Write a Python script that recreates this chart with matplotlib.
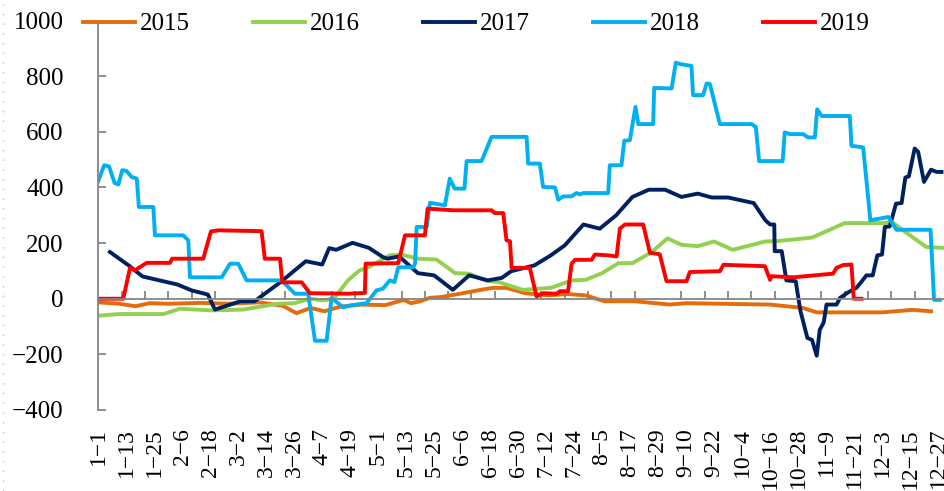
import matplotlib
matplotlib.use("Agg")
import matplotlib.pyplot as plt
from matplotlib.ticker import MultipleLocator, FixedLocator
from matplotlib.lines import Line2D

# day index (0 = 1-1) and value
days_2015 = [0, 9, 16, 22, 30, 44, 56, 69, 79, 85, 91, 97, 104, 113, 123, 131, 134, 138, 142, 147,
             155, 164, 169, 175, 183, 193, 201, 209, 217, 230, 245, 252, 288, 302, 308, 312, 336, 349, 357]
vals_2015 = [-13, -18, -27, -16, -18, -15, -18, -13, -25, -52, -33, -45, -28, -21, -23, -4, -16, -9, 3, 6,
             18, 32, 39, 39, 20, 12, 17, 12, -9, -9, -21, -16, -21, -33, -49, -49, -49, -40, -45]

days_2016 = [0, 9, 28, 35, 49, 62, 77, 84, 91, 96, 101, 107, 112, 116, 125, 130, 137, 145, 153, 159,
             166, 172, 182, 194, 203, 209, 216, 223, 229, 237, 244, 250, 257, 264, 272, 286, 291, 306,
             320, 337, 340, 347, 355, 362]
vals_2016 = [-61, -55, -55, -36, -42, -39, -18, -16, 0, -6, 0, 66, 102, 114, 156, 159, 144, 141, 92, 90,
             66, 59, 32, 39, 66, 68, 92, 128, 128, 166, 217, 194, 189, 206, 176, 206, 207, 220,
             272, 272, 277, 234, 186, 183]

days_2017 = [5, 13, 19, 34, 40, 47, 50, 61, 67, 78, 89, 96, 99, 102, 109, 116, 122, 124, 129, 137,
             144, 152, 159, 167, 173, 177, 187, 194, 200, 208, 215, 222, 229, 236, 243, 250, 257, 263,
             270, 281, 286, 288, 289.8, 290, 293, 295, 299, 301, 304, 306, 308, 309.3, 311, 312.2,
             316.5, 318, 321.5, 325, 327, 329.3, 332, 334, 336, 337.2, 339.3, 342, 344.4, 346, 347.5,
             350, 351.5, 354, 357, 359.4, 361.5]
vals_2017 = [168, 120, 80, 51, 30, 15, -39, -9, -9, 59, 135, 123, 182, 176, 201, 183, 150, 144, 152, 92,
             84, 32, 84, 66, 75, 99, 120, 156, 192, 267, 252, 300, 366, 392, 392, 366, 378, 364,
             364, 344, 282, 267, 267, 171, 171, 66, 63, -43, -141, -148, -205, -112, -85, -21,
             -21, 3, 23, 39, 59, 84, 84, 156, 159, 258, 260, 342, 344, 436, 440,
             540, 528, 420, 464, 456, 456]

days_2018 = [0, 2.5, 4.6, 7, 8.6, 10.3, 12, 14.3, 16.5, 17.4, 23.6, 24.3, 36.4, 38.6, 39.3, 52.9, 56.5,
             60, 63.6, 78.6, 84.3, 90, 92.9, 97.9, 100, 105, 108, 115, 119.3, 122, 125, 127, 128.6,
             135, 135.8, 136.5, 140.8, 142.2, 148.6, 150.7, 152.8, 157, 157.9, 164.3, 168.6, 183.6,
             184.3, 189.3, 190.7, 195.8, 197.2, 199.3, 202.9, 205, 206.5, 207.9, 218.6, 219.3, 224.3,
             225.5, 227.9, 230.3, 231.5, 237.9, 238.3, 245.8, 247.6, 249.3, 254.3, 255, 259.3, 260.8,
             262.2, 266.5, 280, 281.9, 283.3, 293.4, 294.3, 296.5, 302.2, 304.3, 307.2, 308.2, 310.1,
             322.2, 322.9, 327.9, 329.1, 331, 338.7, 342.2, 356.8, 358.3, 360.8]
vals_2018 = [423, 480, 476, 416, 411, 462, 460, 438, 432, 330, 330, 228, 228, 210, 77, 77, 126,
             126, 66, 66, 18, 18, -151, -151, 3, -31, -24, -16, 30, 36, 66, 60, 113,
             113, 126, 258, 258, 345, 336, 432, 396, 396, 495, 495, 582, 582,
             486, 486, 402, 400, 356, 368, 368, 380, 375, 380, 380, 480, 480,
             568, 570, 690, 628, 628, 758, 756, 849, 844, 837, 732, 732, 774,
             772, 628, 628, 618, 495, 495, 598, 592, 592, 580, 580, 681, 657,
             657, 550, 544, 444, 282, 294, 248, 248, -4, -4]

days_2019 = [0, 10.7, 13.6, 15.7, 20.7, 30.7, 31.7, 45, 48.3, 51.5, 70, 71.4, 77.9, 78.9, 87.2, 90.7,
             107.2, 114.3, 114.6, 128.6, 131.5, 140, 141.2, 152.2, 168.6, 170, 173.6, 175, 176.5, 177.2,
             185, 187.9, 190.7, 196.5, 197.9, 201.4, 202.9, 204.4, 211.5, 212.9, 218.6, 222.2, 223.6,
             225.8, 233.6, 236.5, 240.7, 243.6, 252.2, 253.6, 266.5, 268, 285.8, 288, 288.6, 297.9,
             310.8, 315, 316.5, 319.3, 322.9, 323.9, 327.2]
vals_2019 = [0, 0, 111, 102, 129, 129, 144, 144, 242, 246, 243, 144, 144, 59, 59, 20,
             18, 21, 126, 128, 228, 228, 324, 318, 318, 308, 308, 210, 207, 111,
             111, 8, 20, 18, 27, 27, 126, 140, 140, 159, 156, 152, 252,
             267, 267, 165, 160, 63, 63, 96, 99, 122, 117, 68, 81, 77,
             87, 90, 111, 121, 123, 0, 0]

years = ['2015', '2016', '2017', '2018', '2019']
colors = ['#E46C0A', '#92D050', '#002060', '#00B0F0', '#FF0000']

tick_labels = ['1−1', '1−13', '1−25', '2−6', '2−18', '3−2', '3−14', '3−26', '4−7', '4−19', '5−1',
               '5−13', '5−25', '6−6', '6−18', '6−30', '7−12', '7−24', '8−5', '8−17', '8−29', '9−10',
               '9−22', '10−4', '10−16', '10−28', '11−9', '11−21', '12−3', '12−15', '12−27']

plt.rcParams['font.family'] = ['Liberation Serif', 'DejaVu Serif']

fig = plt.figure(figsize=(9.45, 4.91), dpi=100)
ax = fig.add_axes([0.104, 0.165, 0.896, 0.793])

series = [(days_2015, vals_2015), (days_2016, vals_2016), (days_2017, vals_2017),
          (days_2018, vals_2018), (days_2019, vals_2019)]
for (d, v), name, c in zip(series, years, colors):
    ax.plot(d, v, color=c, lw=2.8, label=name, solid_joinstyle='round')

ax.set_xlim(0, 363)
ax.set_ylim(-400, 1000)
ax.yaxis.set_major_locator(MultipleLocator(200))

grey = '#868686'
for s in ['top', 'right']:
    ax.spines[s].set_visible(False)
ax.spines['left'].set_color(grey)
ax.spines['left'].set_linewidth(1.3)
ax.spines['bottom'].set_color(grey)
ax.spines['bottom'].set_linewidth(1.3)
ax.spines['bottom'].set_position(('data', 0))

ax.xaxis.set_major_locator(FixedLocator([12 * i for i in range(len(tick_labels))]))
ax.set_xticklabels(tick_labels, rotation=90, fontsize=17)
ax.xaxis.set_minor_locator(MultipleLocator(10))
ax.tick_params(axis='x', which='major', length=0, pad=93)
ax.tick_params(axis='x', which='minor', direction='in', length=5.5, width=1.3, color=grey)
ax.tick_params(axis='y', direction='in', length=5.5, width=1.3, color=grey, pad=25, labelsize=18)

fig.legend(ncol=5, frameon=False, loc='center', bbox_to_anchor=(0.504, 0.951), fontsize=18,
           handlelength=2.1, handletextpad=0.2, columnspacing=2.5)

# faint dotted border on the left edge
fig.add_artist(Line2D([0.003, 0.003], [0.0, 1.0], transform=fig.transFigure,
                      color='#BFBFBF', lw=1, linestyle=(0, (1, 6))))

plt.savefig('out.png', dpi=100)
